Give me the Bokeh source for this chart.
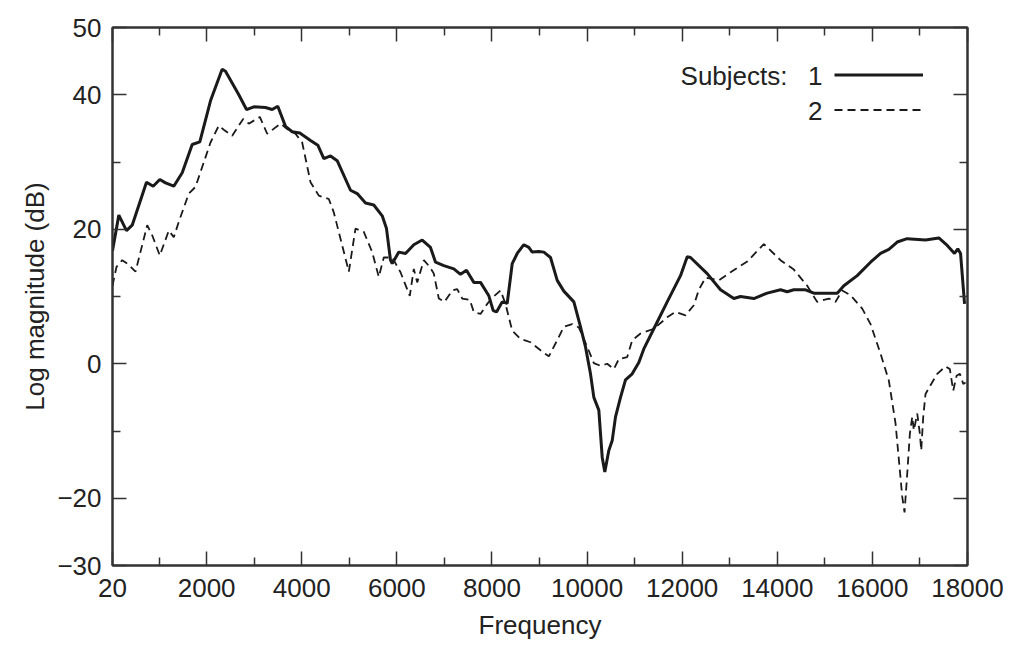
from bokeh.plotting import figure
from bokeh.models import FixedTicker, LinearAxis, Range1d, Legend, LegendItem, Label
from bokeh.embed import file_html
from bokeh.resources import INLINE

# ---- data ----
freq1 = [20, 153, 314, 434, 735, 875, 1015, 1135, 1309, 1486, 1696, 1856, 2081, 2326, 2396,
         2676, 2838, 2992, 3237, 3378, 3496, 3658, 3799, 3959, 4184, 4338, 4464, 4605, 4745,
         5025, 5166, 5341, 5515, 5692, 5782, 5866, 5902, 6041, 6182, 6356, 6533, 6707, 6813,
         6987, 7198, 7338, 7464, 7618, 7759, 7934, 8026, 8096, 8215, 8321, 8426, 8531, 8670,
         8775, 8846, 8986, 9091, 9231, 9372, 9511, 9722, 9847, 9967, 10072, 10142, 10247,
         10318, 10373, 10457, 10529, 10598, 10703, 10808, 10949, 11088, 11193, 11404, 11685,
         11965, 12106, 12175, 12526, 12806, 13086, 13226, 13507, 13788, 14068, 14209, 14348,
         14594, 14769, 15261, 15400, 15681, 15961, 16171, 16346, 16522, 16732, 17117, 17397,
         17574, 17727, 17796, 17854, 17938]
mag1 = [16.8, 22.1, 19.8, 20.6, 27.0, 26.4, 27.4, 26.9, 26.4, 28.4, 32.6, 33.0, 39.1, 43.8, 43.5,
        40.0, 37.8, 38.2, 38.1, 37.8, 38.3, 35.3, 34.5, 34.3, 33.2, 32.5, 30.5, 30.9, 30.2,
        25.8, 25.3, 23.9, 23.6, 22.0, 20.1, 15.4, 14.9, 16.6, 16.4, 17.7, 18.4, 17.3, 15.1,
        14.6, 14.1, 13.3, 13.9, 12.1, 12.1, 10.1, 7.9, 7.7, 9.2, 9.0, 14.9, 16.4, 17.7,
        17.3, 16.6, 16.7, 16.6, 15.8, 12.4, 10.8, 9.2, 5.9, 2.5, -1.5, -5.0, -6.9,
        -13.9, -16.1, -12.9, -11.4, -7.9, -5.0, -2.4, -1.5, 0.2, 2.2, 5.2, 9.2,
        13.1, 15.9, 15.8, 13.4, 11.0, 9.7, 10.0, 9.7, 10.5, 11.0, 10.7, 11.0,
        11.0, 10.5, 10.5, 11.6, 13.1, 15.1, 16.4, 17.0, 18.1, 18.6, 18.4, 18.7,
        17.6, 16.4, 17.1, 16.4, 8.9]

freq2 = [20, 104, 224, 329, 504, 750, 855, 1015, 1204, 1309, 1414, 1625, 1765, 2081, 2255,
         2360, 2537, 2768, 2887, 3118, 3273, 3553, 3694, 3868, 4009, 4184, 4359, 4569, 4674,
         4990, 5130, 5305, 5481, 5620, 5725, 5902, 6077, 6272, 6356, 6428, 6567, 6693, 6777,
         6882, 7002, 7164, 7269, 7374, 7534, 7618, 7759, 7900, 8005, 8180, 8285, 8426, 8601,
         8811, 9021, 9196, 9372, 9511, 9687, 9826, 10003, 10142, 10282, 10423, 10563, 10668,
         10844, 10949, 11124, 11404, 11685, 11860, 12070, 12245, 12350, 12491, 12771, 13017,
         13368, 13717, 14068, 14348, 14629, 14839, 15084, 15225, 15365, 15540, 15786, 15961,
         16171, 16346, 16487, 16578, 16628, 16676, 16732, 16788, 16838, 16872, 16943, 16998,
         17027, 17069, 17117, 17222, 17363, 17538, 17629, 17700, 17770, 17840, 17911, 17959]
mag2 = [11.6, 14.4, 15.4, 14.9, 13.7, 20.6, 19.1, 16.1, 19.8, 18.8, 21.1, 25.3, 26.3, 32.9, 35.4,
        34.8, 33.9, 36.4, 35.7, 36.7, 34.2, 35.7, 34.9, 34.2, 32.9, 27.0, 25.0, 24.5, 22.5,
        13.7, 20.1, 19.6, 16.6, 12.9, 15.8, 15.8, 13.6, 10.1, 14.1, 12.1, 15.4, 14.4, 13.4,
        9.7, 9.2, 10.9, 11.1, 9.7, 9.5, 7.7, 7.4, 8.9, 9.8, 10.9, 8.9, 4.9, 3.7,
        3.2, 2.0, 1.1, 3.5, 5.5, 5.9, 5.4, 2.5, 0.1, -0.3, 0.0, -0.8, 0.7,
        1.0, 3.5, 4.5, 5.2, 6.9, 7.7, 7.2, 8.7, 11.0, 12.8, 12.4, 13.6,
        15.2, 17.8, 15.4, 14.0, 11.6, 9.2, 9.7, 9.2, 10.9, 10.2, 8.2, 5.9,
        1.5, -2.5, -8.9, -15.9, -19.8, -22.1, -16.4, -10.4, -7.9, -9.9, -7.4, -10.4,
        -12.9, -7.9, -4.5, -3.2, -1.5, -0.4, -0.8, -4.0, -1.8, -1.5, -3.0, -2.8]

x_major = [20, 2000, 4000, 6000, 8000, 10000, 12000, 14000, 16000, 18000]
x_minor = [1000, 3000, 5000, 7000, 9000, 11000, 13000, 15000, 17000]
y_major = [-30, -20, 0, 20, 40, 50]
y_minor = [-10, 10, 30]
y_labels = {-30: "\u221230", -20: "\u221220", 0: "0", 20: "20", 40: "40", 50: "50"}

subject_labels = ["1", "2"]
legend_title = "Subjects:"

FONT = "Liberation Sans"
FS = "26px"
AX = "#333333"
INK = "#1a1a1a"

p = figure(width=1016, height=646, x_range=Range1d(20, 18000), y_range=Range1d(-30, 50),
           output_backend="svg", toolbar_location=None,
           min_border_left=112, min_border_right=49, min_border_top=27, min_border_bottom=81)
p.xgrid.visible = False
p.ygrid.visible = False
p.outline_line_color = AX
p.outline_line_width = 2
p.background_fill_color = "white"
p.border_fill_color = "white"

xt = FixedTicker(ticks=x_major, minor_ticks=x_minor)
yt = FixedTicker(ticks=y_major, minor_ticks=y_minor)


def style(ax, labels=True):
    ax.axis_line_color = AX
    ax.axis_line_width = 2
    ax.major_tick_line_color = AX
    ax.minor_tick_line_color = AX
    ax.major_tick_line_width = 1.5
    ax.minor_tick_line_width = 1.5
    ax.major_tick_in = 14
    ax.major_tick_out = 0
    ax.minor_tick_in = 8
    ax.minor_tick_out = 0
    ax.major_label_text_font = FONT
    ax.major_label_text_font_size = FS
    ax.major_label_text_color = "#222222" if labels else None
    ax.axis_label_text_font = FONT
    ax.axis_label_text_font_size = FS
    ax.axis_label_text_font_style = "normal"
    ax.axis_label_text_color = "#222222"


p.xaxis.ticker = xt
p.yaxis.ticker = yt
style(p.xaxis[0])
style(p.yaxis[0])
p.xaxis.axis_label = "Frequency"
p.yaxis.axis_label = "Log magnitude (dB)"
p.xaxis.major_label_standoff = 13
p.xaxis.axis_label_standoff = 10
p.yaxis.major_label_standoff = 11
p.yaxis.axis_label_standoff = 4
p.yaxis.major_label_overrides = y_labels

top = LinearAxis(ticker=xt)
style(top, labels=False)
top.major_label_standoff = 0
p.add_layout(top, "above")
right = LinearAxis(ticker=yt)
style(right, labels=False)
right.major_label_standoff = 0
p.add_layout(right, "right")

r1 = p.line(freq1, mag1, line_color=INK, line_width=3)
r2 = p.line(freq2, mag2, line_color=INK, line_width=1.8, line_dash="8 5")

leg = Legend(items=[LegendItem(label=" ", renderers=[r1]), LegendItem(label=" ", renderers=[r2])],
             location=(722, 438), orientation="vertical", padding=0, margin=0, spacing=0,
             glyph_width=89, glyph_height=35, label_height=35, label_width=1,
             label_standoff=0, label_text_color=None,
             border_line_alpha=0, background_fill_alpha=0)
p.add_layout(leg, "center")

p.add_layout(Label(x=675, y=490, x_units="screen", y_units="screen", text=legend_title,
                   text_align="right", text_baseline="middle", text_font=FONT,
                   text_font_size=FS, text_color="#222222"))
p.add_layout(Label(x=710, y=490, x_units="screen", y_units="screen", text=subject_labels[0],
                   text_align="right", text_baseline="middle", text_font=FONT,
                   text_font_size=FS, text_color="#222222"))
p.add_layout(Label(x=710, y=455, x_units="screen", y_units="screen", text=subject_labels[1],
                   text_align="right", text_baseline="middle", text_font=FONT,
                   text_font_size=FS, text_color="#222222"))

open("out.html", "w").write(file_html(p, INLINE))
